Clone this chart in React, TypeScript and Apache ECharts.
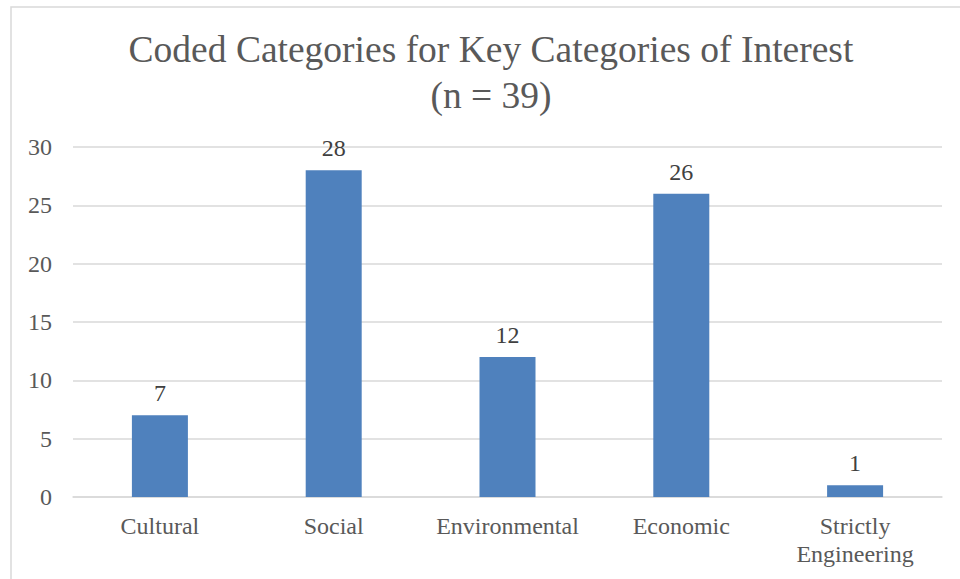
import React, { useEffect, useRef } from "react";
import * as echarts from "echarts";

const categories = ["Cultural", "Social", "Environmental", "Economic", "Strictly\nEngineering"];
const counts = [7, 28, 12, 26, 1];
const titleText = "Coded Categories for Key Categories of Interest\n(n = 39)";

export default function App() {
  const ref = useRef<HTMLDivElement>(null);
  useEffect(() => {
    document.body.style.margin = "0";
    const chart = echarts.init(ref.current!, null, { renderer: "svg" });
    const font = "Liberation Serif, Times New Roman, serif";
    chart.setOption({
      animation: false,
      backgroundColor: "#ffffff",
      textStyle: { fontFamily: font },
      graphic: [
        {
          type: "rect",
          shape: { x: 11, y: 7, width: 960, height: 600 },
          style: { fill: "none", stroke: "#d9d9d9", lineWidth: 1.5 },
          silent: true,
          z: -1,
        },
      ],
      title: {
        text: titleText,
        left: 486,
        top: 21,
        textAlign: "center",
        textStyle: {
          fontFamily: font,
          fontSize: 37.5,
          fontWeight: "normal",
          color: "#595959",
          lineHeight: 46,
        },
      },
      grid: { left: 73, right: 18, top: 147, bottom: 82 },
      xAxis: {
        type: "category",
        data: categories,
        axisLine: { show: true, lineStyle: { color: "#d9d9d9", width: 1.5 } },
        axisTick: { show: false },
        axisLabel: {
          fontFamily: font,
          fontSize: 24,
          color: "#595959",
          margin: 15,
          lineHeight: 28,
          interval: 0,
        },
      },
      yAxis: {
        type: "value",
        min: 0,
        max: 30,
        interval: 5,
        axisLine: { show: false },
        axisTick: { show: false },
        splitLine: { lineStyle: { color: "#d9d9d9", width: 1.5 } },
        axisLabel: {
          fontFamily: font,
          fontSize: 24,
          color: "#595959",
          margin: 21,
        },
      },
      series: [
        {
          type: "bar",
          data: counts,
          barWidth: 56,
          itemStyle: { color: "#4f81bd" },
          label: {
            show: true,
            position: "top",
            distance: 10,
            fontFamily: font,
            fontSize: 24,
            color: "#404040",
          },
        },
      ],
    });
    return () => chart.dispose();
  }, []);
  return <div ref={ref} style={{ width: 960, height: 579 }} />;
}
